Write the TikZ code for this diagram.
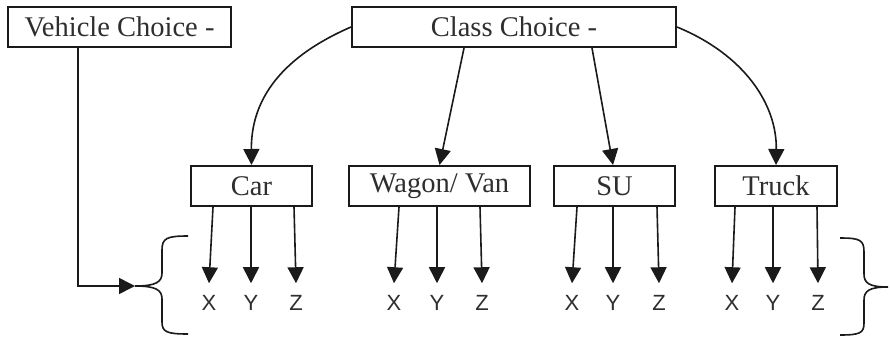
\documentclass[tikz,border=0pt]{standalone}
\usepackage{fontspec}
\setmainfont{Liberation Serif}
\newfontfamily\labfont{Liberation Sans}
\usetikzlibrary{arrows.meta}
\definecolor{ink}{HTML}{1A1A1A}
\definecolor{txt}{HTML}{2E2E2E}
\begin{document}
\begin{tikzpicture}[x=1pt,y=-1pt,
  box/.style={draw=ink,line width=2pt,fill=white,inner sep=0pt,minimum height=40pt,
     font=\fontsize{28.5}{31}\selectfont,text=txt},
  lab/.style={inner sep=0pt,font=\labfont\fontsize{22}{24}\selectfont,text=txt},
  arr/.style={draw=ink,line width=1.6pt,-{Triangle[length=16pt,width=16pt]}},
  brace/.style={draw=ink,line width=1.6pt}]
\useasboundingbox (0,0) rectangle (890,338);
\fill[white] (0,0) rectangle (890,338);
% top boxes
\node[box,minimum width=223pt] (vc) at (119.5,26.5) {Vehicle Choice -};
\node[box,minimum width=324pt] (cc) at (514,27) {Class Choice -};
% class boxes
\node[box,minimum width=121pt] (car) at (251.5,186) {Car};
\node[box,minimum width=181pt] (wv) at (439.5,186) {Wagon/ Van};
\node[box,minimum width=121pt] (su) at (614.5,186) {SU};
\node[box,minimum width=122pt] (tr) at (776,186) {Truck};
% class choice arrows
\draw[arr] (cc.west) .. controls (275,60) and (251,105) .. (car.north);
\draw[arr] ([xshift=-50pt]cc.south) -- (wv.north);
\draw[arr] ([xshift=78pt]cc.south) -- ([xshift=-1.5pt]su.north);
\draw[arr] (cc.east) .. controls (745,55) and (777,105) .. (tr.north);
% labels
\foreach \n/\x/\t in {cx/209/X,cy/251/Y,cz/296/Z,
                       wx/394/X,wy/437/Y,wz/482/Z,
                       sx/572/X,sy/613/Y,sz/659/Z,
                       tx/732/X,ty/773/Y,tz/818/Z}
  \node[lab] (\n) at (\x,303) {\t};
% sub arrows
\foreach \b/\s/\n in {car/213/cx,car/251/cy,car/294/cz,
                      wv/399/wx,wv/437/wy,wv/480/wz,
                      su/577/sx,su/613/sy,su/657/sz,
                      tr/735/tx,tr/773/ty,tr/817/tz}
  \draw[arr] (\b.south -| \s,0) -- ([yshift=12pt]\n.north);
% braces
\coordinate (lb) at (135,286);
\coordinate (rb) at (888,287);
\draw[brace] (188,236) .. controls (167,236) and (162,238) .. (162,250) -- (162,273)
  .. controls (162,282) and (156,286) .. (lb)
  .. controls (156,286) and (162,290) .. (162,299) -- (162,322)
  .. controls (162,332) and (167,334) .. (188,334);
\draw[brace] (840,238) .. controls (860,238) and (864,240) .. (864,252) -- (864,274)
  .. controls (864,283) and (869,287) .. (rb)
  .. controls (869,287) and (864,291) .. (864,300) -- (864,323)
  .. controls (864,333) and (860,335) .. (840,335);
% vehicle choice connector
\draw[arr] (vc.south -| 78,0) |- (lb);
\end{tikzpicture}
\end{document}
